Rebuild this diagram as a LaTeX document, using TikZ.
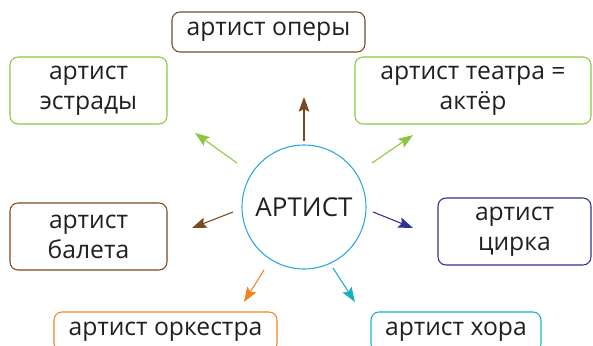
\documentclass[tikz,border=0pt]{standalone}
\usepackage{fontspec}
\setmainfont{Open Sans}
\usetikzlibrary{arrows.meta}
\definecolor{txt}{HTML}{231F20}
\definecolor{cbrown}{HTML}{7A4A1E}
\definecolor{cgreen}{HTML}{8CC63F}
\definecolor{cblue}{HTML}{2E3192}
\definecolor{corange}{HTML}{F58220}
\definecolor{cteal}{HTML}{1AAFC0}
\definecolor{ccirc}{HTML}{27AAE1}
\tikzset{
  box/.style={draw, line width=0.8pt, rounded corners=6pt, align=center, text=txt,
    font=\fontsize{18.5}{22.5}\selectfont, inner sep=0pt},
  arr/.style={line width=0.8pt, -{Stealth[length=11pt,width=8pt,inset=2pt]}}
}
\begin{document}
\begin{tikzpicture}[x=0.75pt,y=-0.75pt]
\clip (0,0) rectangle (593,346);
% centre
\node[circle, draw=ccirc, line width=0.8pt, minimum size=93pt, inner sep=0pt, text=txt,
  font=\fontsize{19.5}{22}\selectfont] (art) at (304,207) {АРТИСТ};
% boxes
\node[box, draw=cbrown, minimum width=144.75pt, minimum height=30pt] (opera) at (268.5,32) {артист оперы};
\node[box, draw=cgreen, minimum width=117.75pt, minimum height=50.25pt] (estrada) at (88.5,90.5) {артист\\эстрады};
\node[box, draw=cgreen, minimum width=177pt, minimum height=50.25pt] (teatr) at (473,90.5) {артист театра =\\актёр};
\node[box, draw=cbrown, minimum width=117.75pt, minimum height=50.25pt] (balet) at (88.5,236.5) {артист\\балета};
\node[box, draw=cblue, minimum width=114.75pt, minimum height=50.25pt] (cirk) at (514.5,231.5) {артист\\цирка};
\node[box, draw=corange, minimum width=167.25pt, minimum height=30pt] (orkestr) at (165.5,332) {артист оркестра};
\node[box, draw=cteal, minimum width=127.5pt, minimum height=30pt] (hor) at (456,332) {артист хора};
% arrow tips
\coordinate (tOpera) at (304,97);
\coordinate (tEstrada) at (195,133);
\coordinate (tTeatr) at (413,135);
\coordinate (tBalet) at (192,228);
\coordinate (tCirk) at (413,228);
\coordinate (tOrkestr) at (244,302);
\coordinate (tHor) at (355,302);
% arrows
\draw[arr, cbrown] (art.center) ++(0,-66) -- (tOpera);
\draw[arr, cgreen] (art.center) ++(-67,-44) -- (tEstrada);
\draw[arr, cgreen] (art.center) ++(68,-44) -- (tTeatr);
\draw[arr, cbrown] (art.center) ++(-71,5) -- (tBalet);
\draw[arr, cblue] (art.center) ++(69,5) -- (tCirk);
\draw[arr, corange] (art.center) ++(-40,63) -- (tOrkestr);
\draw[arr, cteal] (art.center) ++(29,61) -- (tHor);
\end{tikzpicture}
\end{document}
